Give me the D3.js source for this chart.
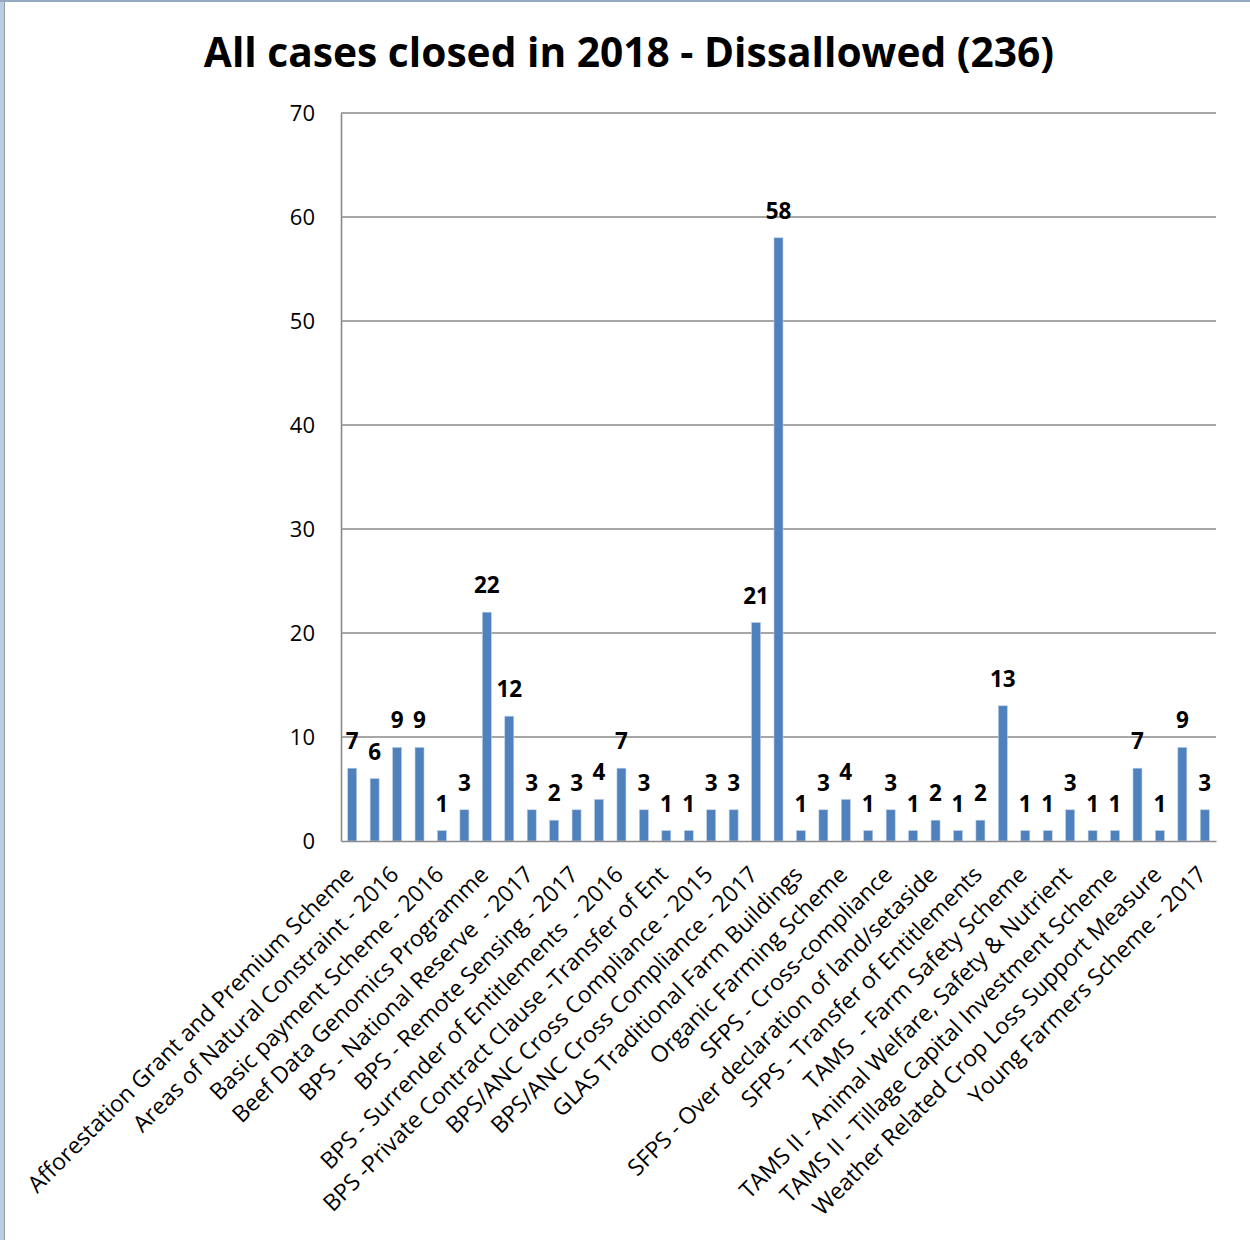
<!DOCTYPE html>
<html>
<head>
<meta charset="utf-8">
<script src="https://cdn.jsdelivr.net/npm/d3@7"></script>
<style>
  html, body { margin: 0; padding: 0; background: #fff; }
  svg { display: block; }
  text { font-family: "Open Sans", Lato, sans-serif; white-space: pre; }
</style>
</head>
<body>
<svg id="chart" width="1250" height="1240"></svg>
<script>
const title = "All cases closed in 2018 - Dissallowed (236)";
const values = [7, 6, 9, 9, 1, 3, 22, 12, 3, 2, 3, 4, 7, 3, 1, 1, 3, 3, 21, 58,
                1, 3, 4, 1, 3, 1, 2, 1, 2, 13, 1, 1, 3, 1, 1, 7, 1, 9, 3];
// Only every other category name is shown on the axis (odd positions 1,3,5,...)
const shownLabels = [
  "Afforestation Grant and Premium Scheme",
  "Areas of Natural Constraint - 2016",
  "Basic payment Scheme - 2016",
  "Beef Data Genomics Programme",
  "BPS - National Reserve  - 2017",
  "BPS - Remote Sensing - 2017",
  "BPS - Surrender of Entitlements  - 2016",
  "BPS -Private Contract Clause -Transfer of Ent",
  "BPS/ANC Cross Compliance - 2015",
  "BPS/ANC Cross Compliance - 2017",
  "GLAS Traditional Farm Buildings",
  "Organic Farming Scheme",
  "SFPS - Cross-compliance",
  "SFPS - Over declaration of land/setaside",
  "SFPS - Transfer of Entitlements",
  "TAMS  - Farm Safety Scheme",
  "TAMS II - Animal Welfare, Safety & Nutrient",
  "TAMS II - Tillage Capital Investment Scheme",
  "Weather Related Crop Loss Support Measure",
  "Young Farmers Scheme - 2017"
];
const yTicks = [0, 10, 20, 30, 40, 50, 60, 70];

const svg = d3.select("#chart");
const FONT = '"Open Sans", Lato, sans-serif';

// frame
svg.append("rect").attr("x", 0).attr("y", 0).attr("width", 4).attr("height", 1240).attr("fill", "#b9cde5");
svg.append("line").attr("x1", 4.5).attr("x2", 4.5).attr("y1", 0).attr("y2", 1240).attr("stroke", "#9a9a9a").attr("stroke-width", 1);
svg.append("line").attr("x1", 0).attr("x2", 1250).attr("y1", 1).attr("y2", 1).attr("stroke", "#95a9c2").attr("stroke-width", 2);

const plotL = 341, plotR = 1216, plotT = 113, plotB = 841;
const idx = d3.range(values.length);
const x = d3.scaleBand().domain(idx).range([plotL, plotR]).paddingInner(0.6).paddingOuter(0.3);
const y = d3.scaleLinear().domain([0, 70]).range([plotB, plotT]);

// title
svg.append("text").attr("x", 629).attr("y", 67).attr("text-anchor", "middle")
  .attr("font-size", 40.7).attr("font-weight", "bold").attr("fill", "#000").text(title);

// gridlines
svg.append("g").selectAll("line").data(yTicks.filter(d => d > 0)).join("line")
  .attr("x1", plotL).attr("x2", plotR)
  .attr("y1", d => y(d)).attr("y2", d => y(d))
  .attr("stroke", "#8a8a8a").attr("stroke-width", 1.6);

// y axis
const yAxis = d3.axisLeft(y).tickValues(yTicks).tickSize(0).tickPadding(26);
const gy = svg.append("g").attr("transform", `translate(${plotL},0)`).call(yAxis);
gy.select(".domain").attr("stroke", "#8a8a8a").attr("stroke-width", 1.6);
gy.selectAll("text").attr("font-size", 22).attr("fill", "#000").attr("font-family", FONT);

// bars
svg.append("g").selectAll("rect").data(idx).join("rect")
  .attr("x", i => x(i)).attr("width", x.bandwidth())
  .attr("y", i => y(values[i])).attr("height", i => y(0) - y(values[i]))
  .attr("fill", "#4f81bd").attr("stroke", "#b8cce4").attr("stroke-width", 0.6);

// x axis
const xAxis = d3.axisBottom(x).tickSize(0).tickFormat(i => i % 2 === 0 ? shownLabels[i / 2] : "");
const gx = svg.append("g").attr("transform", `translate(0,${plotB})`).call(xAxis);
gx.select(".domain").attr("stroke", "#8a8a8a").attr("stroke-width", 1.6);
gx.selectAll("text")
  .attr("font-size", 23).attr("fill", "#000").attr("font-family", FONT)
  .attr("text-anchor", "end")
  .attr("dy", null).attr("y", 0)
  .attr("transform", "translate(3,35) rotate(-45)");

// data labels
svg.append("g").selectAll("text").data(idx).join("text")
  .attr("x", i => x(i) + x.bandwidth() / 2)
  .attr("y", i => y(values[i]) - 19)
  .attr("text-anchor", "middle").attr("font-size", 22.5).attr("font-weight", "bold").attr("fill", "#000")
  .text(i => values[i]);
</script>
</body>
</html>
